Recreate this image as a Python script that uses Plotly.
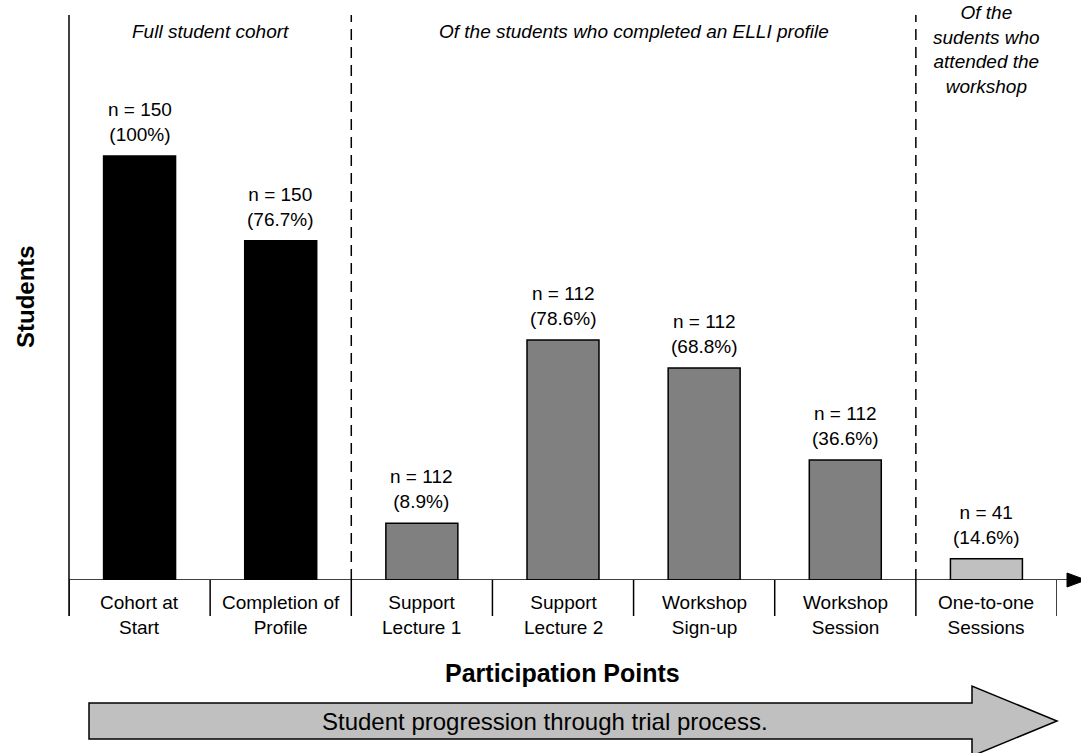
import plotly.graph_objects as go

# ---- data ----
categories = ["Cohort at<br>Start", "Completion of<br>Profile", "Support<br>Lecture 1",
              "Support<br>Lecture 2", "Workshop<br>Sign-up", "Workshop<br>Session",
              "One-to-one<br>Sessions"]
bar_heights = [100, 80.0, 13.4, 56.6, 50.0, 28.3, 5.0]
n_values = [150, 150, 112, 112, 112, 112, 41]
pct_labels = ["100%", "76.7%", "8.9%", "78.6%", "68.8%", "36.6%", "14.6%"]
bar_colors = ["#000000", "#000000", "#808080", "#808080", "#808080", "#808080", "#C0C0C0"]
section_titles = ["Full student cohort",
                  "Of the students who completed an ELLI profile",
                  "Of the<br>sudents who<br>attended the<br>workshop"]
section_bounds = [(-0.5, 1.5), (1.5, 5.5), (5.5, 6.5)]
x_title = "Participation Points"
y_title = "Students"
arrow_text = "Student progression through trial process."

W, H = 1081, 753
L, R, T, B = 69, 24, 15, 173
PW, PH = W - L - R, H - T - B
YMAX = 133.25
FONT = "Liberation Sans, Arial, sans-serif"

def px(x):
    return (x - L) / PW

def py(y):
    return (H - B - y) / PH

xs = list(range(len(categories)))

fig = go.Figure()
fig.add_trace(go.Bar(
    x=xs, y=bar_heights,
    marker=dict(color=bar_colors, line=dict(color="black", width=1.5)),
    hoverinfo="skip",
))

annotations = []
# bar labels
for i, (h, n, p) in enumerate(zip(bar_heights, n_values, pct_labels)):
    annotations.append(dict(x=i, y=h, xref="x", yref="y", text=f"n = {n}<br>({p})",
                            showarrow=False, yanchor="middle", yshift=34,
                            font=dict(size=19, color="black", family=FONT)))
# category labels
for i, c in enumerate(categories):
    annotations.append(dict(x=i, y=py(615), xref="x", yref="paper", text=c,
                            showarrow=False, yanchor="middle",
                            font=dict(size=19, color="black", family=FONT)))
# section titles
sec_y = [py(32), py(32), py(50)]
for (a, b), t, yy in zip(section_bounds, section_titles, sec_y):
    annotations.append(dict(x=(a + b) / 2, y=yy, xref="x", yref="paper",
                            text=f"<i>{t}</i>", showarrow=False, yanchor="middle",
                            font=dict(size=19, color="black", family=FONT)))
# axis titles
annotations.append(dict(x=px(562), y=py(673), xref="paper", yref="paper",
                        text=f"<b>{x_title}</b>", showarrow=False, yanchor="middle",
                        font=dict(size=25, color="black", family=FONT)))
annotations.append(dict(x=px(25), y=py(297), xref="paper", yref="paper",
                        text=f"<b>{y_title}</b>", showarrow=False, textangle=-90,
                        xanchor="center", yanchor="middle",
                        font=dict(size=24, color="black", family=FONT)))
annotations.append(dict(x=px(545), y=py(721), xref="paper", yref="paper",
                        text=arrow_text, showarrow=False, yanchor="middle",
                        font=dict(size=24, color="black", family=FONT)))

shapes = []
line = dict(color="black", width=1.5)
# y axis line
shapes.append(dict(type="line", xref="paper", yref="paper", x0=0, x1=0,
                   y0=py(616), y1=py(15), line=line))
# x axis line
shapes.append(dict(type="line", xref="paper", yref="y", x0=0, x1=px(1068),
                   y0=0, y1=0, line=line))
# axis arrowhead
shapes.append(dict(type="path", xref="paper", yref="paper",
                   path=f"M {px(1067)} {py(573)} L {px(1086)} {py(580)} L {px(1067)} {py(587)} Z",
                   fillcolor="black", line=dict(color="black", width=1)))
# category dividers
for k in range(len(categories) + 1):
    shapes.append(dict(type="line", xref="x", yref="paper", x0=k - 0.5, x1=k - 0.5,
                       y0=0, y1=py(616), line=line))
# section dashed separators
for (a, b) in section_bounds[1:]:
    shapes.append(dict(type="line", xref="x", yref="paper", x0=a, x1=a,
                       y0=0, y1=py(15), line=dict(color="black", width=1.5, dash="11px,7px")))
# big progression arrow
pts = [(89, 703), (972, 703), (972, 686), (1057, 721), (972, 756), (972, 739), (89, 739)]
path = "M " + " L ".join(f"{px(a)} {py(b)}" for a, b in pts) + " Z"
shapes.append(dict(type="path", xref="paper", yref="paper", path=path,
                   fillcolor="#C0C0C0", line=dict(color="black", width=1.5), layer="below"))

fig.update_layout(
    width=W, height=H,
    margin=dict(l=L, r=R, t=T, b=B, pad=0),
    paper_bgcolor="white", plot_bgcolor="white",
    showlegend=False,
    bargap=0.49,
    xaxis=dict(range=[-0.5, 6.5], showticklabels=False, showgrid=False, zeroline=False,
               showline=False, ticks=""),
    yaxis=dict(range=[0, YMAX], showticklabels=False, showgrid=False, zeroline=False,
               showline=False, ticks=""),
    annotations=annotations,
    shapes=shapes,
    font=dict(family=FONT, color="black"),
)

fig.write_html("out.html", config={"displayModeBar": False},
               post_script="document.body.style.margin='0';document.body.style.overflow='hidden';")
